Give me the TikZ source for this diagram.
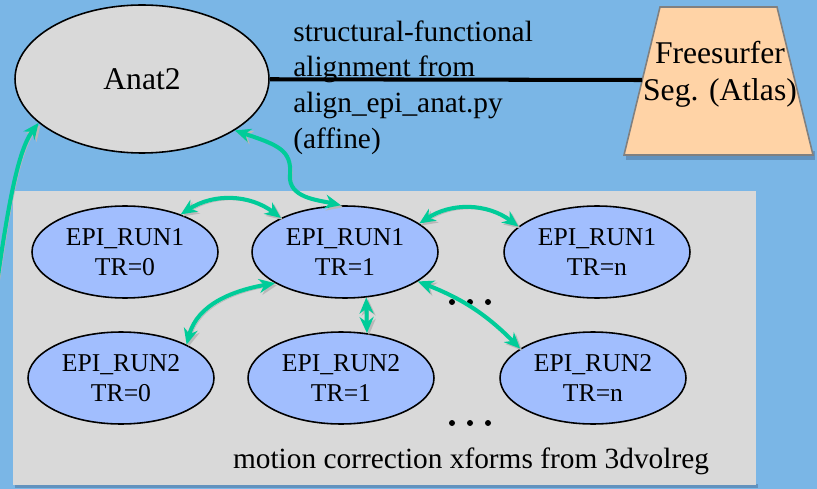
\documentclass[tikz,border=0pt]{standalone}
\usepackage{fontspec}
\setmainfont{Liberation Serif}
\usetikzlibrary{shapes.geometric,arrows.meta}
\definecolor{slideblue}{RGB}{122,182,230}
\definecolor{slideshade}{RGB}{98,146,190}
\definecolor{boxgray}{RGB}{217,217,217}
\definecolor{runblue}{RGB}{161,190,254}
\definecolor{segpeach}{RGB}{255,211,166}
\definecolor{xformgreen}{RGB}{0,204,153}

\begin{document}
\begin{tikzpicture}[x=0.02cm,y=-0.02cm,
  runnode/.style={ellipse,draw=black,line width=0.9pt,fill=runblue,minimum width=3.72cm,minimum height=1.84cm,inner sep=0pt,align=center,font=\myfontrun},
  xform/.style={draw=xformgreen,line width=2.3pt,{Stealth[length=0.32cm,width=0.28cm]}-{Stealth[length=0.32cm,width=0.28cm]},preaction={draw=black!28,transform canvas={xshift=0.04cm,yshift=-0.04cm}}},
  xformone/.style={draw=xformgreen,line width=2.3pt,-{Stealth[length=0.32cm,width=0.28cm]},preaction={draw=black!28,transform canvas={xshift=0.04cm,yshift=-0.04cm}}}]
\newcommand{\myfontbig}{%
\fontsize{18}{21}\selectfont%
}\newcommand{\myfontnote}{%
\fontsize{16.7}{20.3}\selectfont%
}\newcommand{\myfontrun}{%
\fontsize{14.6}{17}\selectfont%
}%Slide background
\useasboundingbox (0,0) rectangle (817,489);
\fill[slideblue] (0,0) rectangle (817,489);
%Box holding the runs
\fill[slideshade] (15,484) rectangle (758,488);
\fill[boxgray] (13,191) rectangle (756,485);
%Anatomy
\coordinate (centerAnat) at (142,79);
\node [] (anat) at (centerAnat) [ellipse,draw=black,line width=0.9pt,fill=boxgray,minimum width=5.08cm,minimum height=2.96cm,font=\myfontbig] {Anat2};
%Atlas segmentation
\coordinate (segTL) at (660,7);
\coordinate (segTR) at (777,7);
\coordinate (segBR) at (813,155);
\coordinate (segBL) at (624,155);
\coordinate (segLeft) at (642,80);
\fill[slideshade] (626,151) -- (815,151) -- (815,160) -- (626,160) -- cycle;
\draw [draw=gray,line width=0.9pt,fill=segpeach] (segTL) -- (segTR) -- (segBR) -- (segBL) -- cycle;
\coordinate (centerSeg) at (720,74);
\node [inner sep=0pt,align=center,font=\myfontbig] (seg) at (centerSeg) {Freesurfer\\Seg. (Atlas)};
%Alignment note
\coordinate (note) at (293,20);
\node [anchor=north west,inner sep=0pt,align=left,font=\myfontnote] (alignnote) at (note) {structural-functional\\alignment from\\align\_epi\_anat.py\\(affine)};
\draw [line width=2.3pt] (anat) -- (segLeft);
%Runs in the first row
\coordinate (centerR10) at (125,252);
\node [runnode] (run10) at (centerR10) {EPI\_RUN1\\TR=0};
\coordinate (centerR11) at (345,252);
\node [runnode] (run11) at (centerR11) {EPI\_RUN1\\TR=1};
\coordinate (centerR1n) at (597,252);
\node [runnode] (run1n) at (centerR1n) {EPI\_RUN1\\TR=n};
%Runs in the second row
\coordinate (centerR20) at (121,378);
\node [runnode] (run20) at (centerR20) {EPI\_RUN2\\TR=0};
\coordinate (centerR21) at (341,378);
\node [runnode] (run21) at (centerR21) {EPI\_RUN2\\TR=1};
\coordinate (centerR2n) at (593,378);
\node [runnode] (run2n) at (centerR2n) {EPI\_RUN2\\TR=n};
%Dots
\foreach \dx in {452,470,488} {
	\fill (\dx,302) circle (0.06cm);
	\fill (\dx,423) circle (0.06cm);
}
%Caption of the box
\coordinate (mcbase) at (471,468);
\node [anchor=base,font=\myfontnote] (mclabel) at (mcbase) {motion correction xforms from 3dvolreg};
%Transforms
\coordinate (offleft) at (-4,290);
\draw [xformone] (offleft) .. controls (8,205) and (18,150) .. (anat.203);
\draw [xform] (anat.-29) .. controls (278,145) and (292,150) .. (290,175) .. controls (288,198) and (318,200) .. (run11.95);
\draw [xform] (run10.34) to[bend left=35] (run11.152);
\draw [xform] (run11.21) to[bend left=35] (run1n.162);
\draw [xform] (run11.204) to[out=190,in=75] (run20.27);
\draw [xform] (run11.-65) -- (run21.60);
\draw [xform] (run11.-22) to[bend left=12] (run2n.158);
\end{tikzpicture}
\end{document}
